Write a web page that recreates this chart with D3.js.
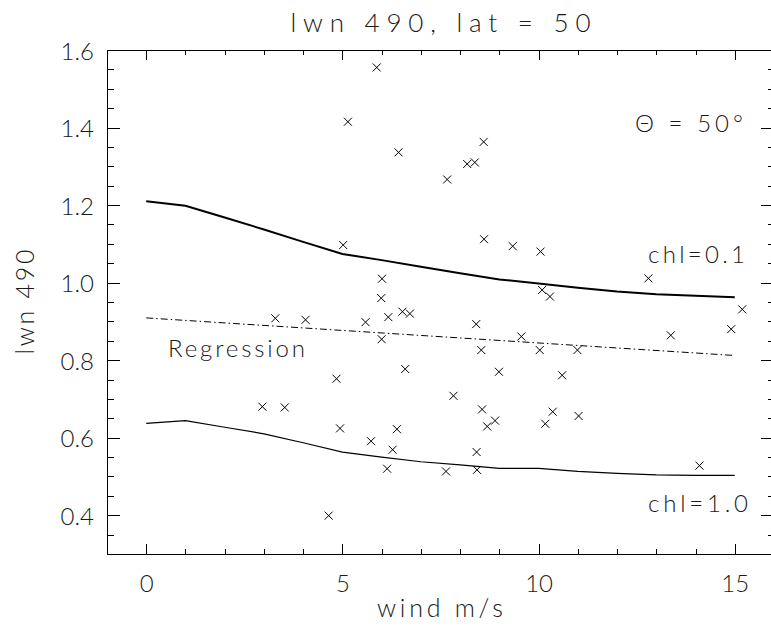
<!DOCTYPE html>
<html>
<head>
<meta charset="utf-8">
<script src="https://cdn.jsdelivr.net/npm/d3@7"></script>
<style>
  html, body { margin: 0; padding: 0; background: #fff; }
  svg { display: block; }
  text { font-family: "Lato", "DejaVu Sans", sans-serif; font-weight: 300; fill: #1a1a1a; }
  .axis path, .axis line { stroke: #000; stroke-width: 1; shape-rendering: crispEdges; }
</style>
</head>
<body>
<svg id="chart" width="771" height="635"></svg>
<script>
// Observed water-leaving radiance at 490 nm against wind speed
const windObs = [5.875, 5.14, 6.43, 8.6, 8.18, 8.375, 7.67, 5.02, 8.61, 9.34,
  10.05, 6.01, 5.99, 12.8, 10.09, 10.29, 15.19, 14.91, 13.37, 9.56,
  3.29, 4.06, 5.59, 6.17, 6.53, 6.72, 6.0, 8.41, 8.54, 10.03,
  10.99, 6.6, 8.99, 10.6, 4.85, 7.83, 2.96, 3.53, 8.56, 10.36,
  11.02, 10.17, 4.94, 6.39, 8.89, 8.69, 5.73, 6.28, 8.42, 6.14,
  7.64, 8.43, 14.1, 4.65];
const lwnObs = [1.555, 1.415, 1.336, 1.363, 1.306, 1.31, 1.266, 1.097, 1.112, 1.094,
  1.080, 1.01, 0.960, 1.011, 0.981, 0.964, 0.931, 0.880, 0.864, 0.861,
  0.908, 0.904, 0.898, 0.911, 0.925, 0.920, 0.854, 0.893, 0.826, 0.826,
  0.826, 0.777, 0.770, 0.761, 0.752, 0.708, 0.680, 0.678, 0.673, 0.667,
  0.656, 0.636, 0.624, 0.622, 0.644, 0.629, 0.591, 0.569, 0.563, 0.520,
  0.513, 0.517, 0.528, 0.399];

// Model curves for two chlorophyll concentrations
const windModel = [0, 1, 2, 3, 4, 5, 6, 7, 8, 9, 10, 11, 12, 13, 14, 15];
const lwnChl01 = [1.210, 1.198, 1.168, 1.137, 1.105, 1.074, 1.058, 1.041, 1.024, 1.008,
  0.998, 0.987, 0.977, 0.970, 0.966, 0.962];
const lwnChl10 = [0.637, 0.644, 0.627, 0.610, 0.587, 0.563, 0.550, 0.538, 0.530, 0.521,
  0.521, 0.513, 0.508, 0.504, 0.503, 0.503];

// Regression line end points
const windReg = [0, 15];
const lwnReg = [0.909, 0.812];

// Axis ticks
const xMajor = [0, 5, 10, 15];
const xMinor = d3.range(-1, 16.5, 1);
const yMajor = [0.4, 0.6, 0.8, 1.0, 1.2, 1.4, 1.6];
const yMinor = d3.range(0.3, 1.6001, 0.05);

const svg = d3.select("#chart");
const x = d3.scaleLinear().domain([-1, 16]).range([107, 774]);
const y = d3.scaleLinear().domain([0.3, 1.6]).range([554, 50]);
const plotLeft = x.range()[0], plotRight = x.range()[1];
const plotTop = y.range()[1], plotBottom = y.range()[0];

// Frame with inward ticks on all four sides
function addAxis(gen, tr) {
  return svg.append("g").attr("class", "axis").attr("transform", tr).call(gen);
}
addAxis(d3.axisBottom(x).tickValues(xMinor).tickSize(-5).tickSizeOuter(0).tickFormat(""), `translate(0,${plotBottom})`);
const xb = addAxis(d3.axisBottom(x).tickValues(xMajor).tickSize(-10).tickSizeOuter(0).tickPadding(21).tickFormat(d3.format("d")), `translate(0,${plotBottom})`);
addAxis(d3.axisTop(x).tickValues(xMinor).tickSize(-5).tickSizeOuter(0).tickFormat(""), `translate(0,${plotTop})`);
addAxis(d3.axisTop(x).tickValues(xMajor).tickSize(-10).tickSizeOuter(0).tickFormat(""), `translate(0,${plotTop})`);
addAxis(d3.axisLeft(y).tickValues(yMinor).tickSize(-6.5).tickSizeOuter(0).tickFormat(""), `translate(${plotLeft},0)`);
const yl = addAxis(d3.axisLeft(y).tickValues(yMajor).tickSize(-13).tickSizeOuter(0).tickPadding(13).tickFormat(d3.format(".1f")), `translate(${plotLeft},0)`);
addAxis(d3.axisRight(y).tickValues(yMinor).tickSize(-6.5).tickSizeOuter(0).tickFormat(""), `translate(${plotRight},0)`);
addAxis(d3.axisRight(y).tickValues(yMajor).tickSize(-13).tickSizeOuter(0).tickFormat(""), `translate(${plotRight},0)`);

svg.selectAll(".axis").attr("font-family", null).attr("font-size", null);
svg.selectAll(".axis text").attr("fill", null);
xb.selectAll("text").attr("font-size", 24);
yl.selectAll("text").attr("font-size", 24).attr("dy", "0.38em");

// Curves
const line = d3.line().x(d => x(d[0])).y(d => y(d[1]));
svg.append("path").datum(windModel.map((w, i) => [w, lwnChl01[i]]))
  .attr("d", line).attr("fill", "none").attr("stroke", "#000").attr("stroke-width", 2);
svg.append("path").datum(windModel.map((w, i) => [w, lwnChl10[i]]))
  .attr("d", line).attr("fill", "none").attr("stroke", "#000").attr("stroke-width", 1.2);
svg.append("path").datum(windReg.map((w, i) => [w, lwnReg[i]]))
  .attr("d", line).attr("fill", "none").attr("stroke", "#000").attr("stroke-width", 1)
  .attr("stroke-dasharray", "7,3,1.5,3");

// Observation crosses
const s = 4;
svg.append("g").selectAll("path").data(windObs.map((w, i) => [w, lwnObs[i]])).join("path")
  .attr("d", d => {
    const cx = x(d[0]), cy = y(d[1]);
    return `M${cx - s},${cy - s}L${cx + s},${cy + s}M${cx - s},${cy + s}L${cx + s},${cy - s}`;
  })
  .attr("stroke", "#000").attr("stroke-width", 1).attr("fill", "none");

// Text
function label(txt, px, py, size, len, anchor) {
  return svg.append("text").attr("x", px).attr("y", py).attr("font-size", size)
    .attr("text-anchor", anchor || "start")
    .attr("textLength", len).attr("lengthAdjust", "spacing").text(txt);
}
label("lwn 490, lat = 50", 440.5, 32, 26, 300, "middle");
label("wind m/s", 440, 617, 25, 126, "middle");
svg.append("text").attr("transform", "translate(34,302) rotate(-90)")
  .attr("font-size", 25).attr("text-anchor", "middle")
  .attr("textLength", 105).attr("lengthAdjust", "spacing").text("lwn 490");
label("\u0398 = 50\u00b0", 635, 132, 24, 108);
label("chl=0.1", 648, 263, 24, 97);
label("Regression", 168, 357, 24, 137);
label("chl=1.0", 648, 512, 24, 100);
</script>
</body>
</html>
